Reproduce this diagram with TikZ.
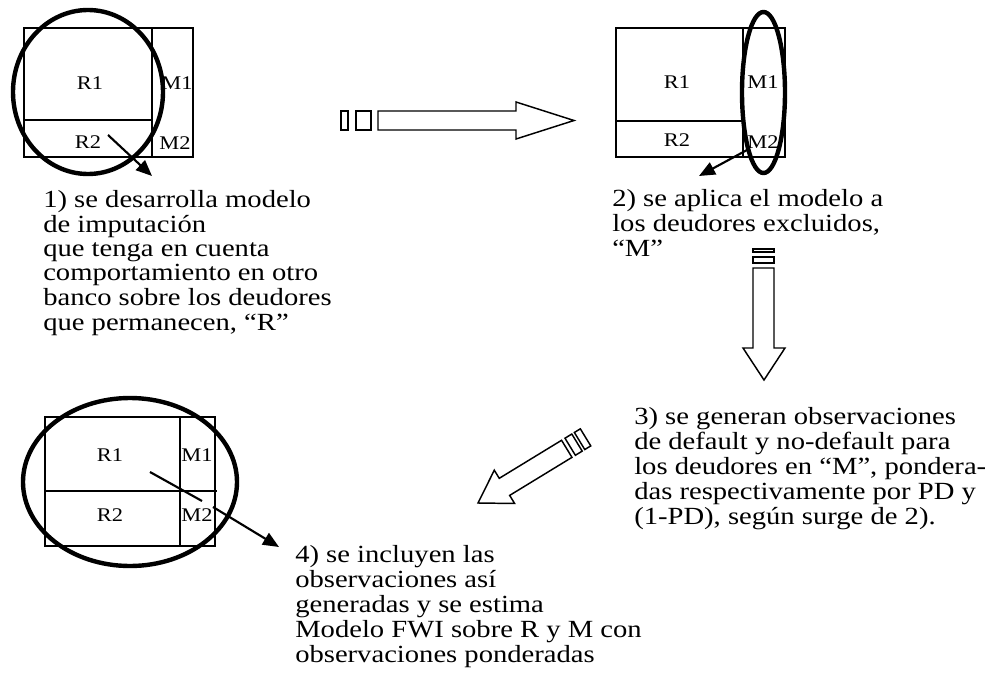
\documentclass[tikz,border=0pt]{standalone}
\usepackage{fontspec}
\setmainfont{Liberation Serif}[FakeStretch=1.16]
\usetikzlibrary{arrows.meta}
\begin{document}
\begin{tikzpicture}[x=0.75pt,y=-0.75pt,
  grid/.style={draw, line width=0.8pt},
  ring/.style={draw, line width=3.3pt},
  blk/.style={draw, line width=1.1pt, line join=miter, fill=white},
  ptr/.style={line width=1.6pt, -{Triangle[length=12pt,width=10pt]}},
  lbl/.style={font=\fontsize{14.5}{16}\selectfont, inner sep=0pt},
  txt/.style={font=\fontsize{18.5}{18.6}\selectfont, align=left, anchor=base west, inner sep=0pt}]
\useasboundingbox (0,0) rectangle (989,674);

% ---------- top-left panel ----------
\draw[grid] (24,28) rectangle (193,157);
\draw[grid] (152,28) -- (152,157);
\draw[grid] (24,120) -- (152,120);
\node[lbl] (a1) at (90,83) {R1};
\node[lbl] (a2) at (177,83) {M1};
\node[lbl] (a3) at (88,142) {R2};
\node[lbl] (a4) at (175,143) {M2};
\draw[ring] (88,92) ellipse [x radius=75, y radius=82];
\coordinate (p1s) at (108,135);
\coordinate (p1e) at (152,176);
\draw[ptr] (p1s) -- (p1e);

% ---------- top-right panel ----------
\draw[grid] (616,28) rectangle (785,157);
\draw[grid] (743,28) -- (743,157);
\draw[grid] (616,121) -- (743,121);
\node[lbl] (b1) at (677,82) {R1};
\node[lbl] (b2) at (763,82) {M1};
\node[lbl] (b3) at (677,140) {R2};
\node[lbl] (b4) at (763,142) {M2};
\draw[ring] (763.5,92.5) ellipse [x radius=21.5, y radius=80.5];
\coordinate (p2s) at (747,150);
\coordinate (p2e) at (699,176);
\draw[ptr] (p2s) -- (p2e);

% ---------- bottom-left panel ----------
\draw[grid] (45,417) rectangle (215,546);
\draw[grid] (180,417) -- (180,546);
\draw[grid] (45,491) -- (217,491);
\node[lbl] (c1) at (110,455) {R1};
\node[lbl] (c2) at (197,455) {M1};
\node[lbl] (c3) at (110,515) {R2};
\node[lbl] (c4) at (197,515) {M2};
\draw[ring] (130,482) ellipse [x radius=107, y radius=84];
\coordinate (q1) at (150,472);
\coordinate (q2) at (202,501);
\draw[line width=1.6pt] (q1) -- (q2);
\coordinate (p4s) at (213,507);
\coordinate (p4e) at (279,547);
\draw[ptr] (p4s) -- (p4e);

% ---------- block arrows ----------
% horizontal
\draw[blk] (341,111) rectangle (348,130);
\draw[blk] (356,111) rectangle (371,130);
\draw[blk] (378,111) -- (516,111) -- (516,102) -- (574,120.5) -- (516,139) -- (516,130) -- (378,130) -- cycle;
% vertical
\draw[blk] (753,249) rectangle (774,252);
\draw[blk] (753,257) rectangle (774,263);
\draw[blk] (753,268) -- (753,348) -- (743,348) -- (764,380) -- (785,348) -- (774,348) -- (774,268) -- cycle;
% diagonal
\begin{scope}[shift={(478,503)}, rotate=31.4]
  \draw[blk] (108,-10) rectangle (116,10);
  \draw[blk] (119,-10) rectangle (126,10);
  \draw[blk] (0,0) -- (31,-19.5) -- (31,-10) -- (104,-10) -- (104,10) -- (31,10) -- (31,19.5) -- cycle;
\end{scope}

% ---------- texts (anchor = baseline of the last line) ----------
\node[txt] (t1a) at (43,232) {1) se desarrolla modelo\\de imputación};
\node[txt] (t1b) at (43,330.5) {que tenga en cuenta\\comportamiento en otro\\banco sobre los deudores\\que permanecen, “R”};
\node[txt] (t2) at (612,256.5) {2) se aplica el modelo a\\los deudores excluidos,\\“M”};
\node[txt] (t3) at (634,524) {3) se generan observaciones\\de default y no-default para\\los deudores en “M”, pondera-\\das respectivamente por PD y\\(1-PD), según surge de 2).};
\node[txt] (t4) at (295,662) {4) se incluyen las\\observaciones así\\generadas y se estima\\Modelo FWI sobre R y M con\\observaciones ponderadas};
\end{tikzpicture}
\end{document}
